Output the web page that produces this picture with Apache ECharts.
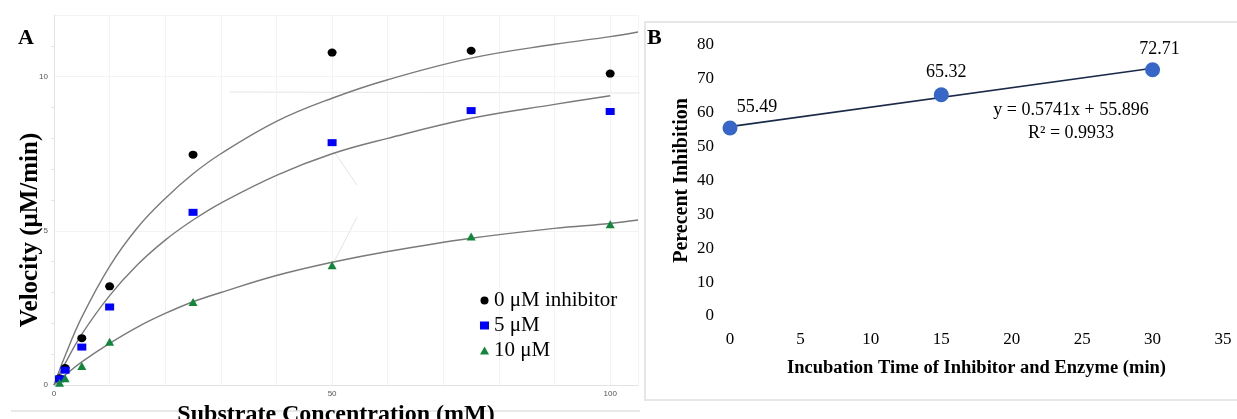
<!DOCTYPE html>
<html>
<head>
<meta charset="utf-8">
<script src="https://cdn.jsdelivr.net/npm/echarts@6/dist/echarts.min.js"></script>
<style>
  html, body { margin: 0; padding: 0; background: #fff; }
  #chart { width: 1237px; height: 419px; }
</style>
</head>
<body>
<div id="chart"></div>
<script>
// panel A - measured velocities
const substrate = [1, 2, 5, 10, 25, 50, 75, 100]
const vel0 = [0.22, 0.55, 1.52, 3.2, 7.47, 10.78, 10.84, 10.1]
const vel5 = [0.2, 0.48, 1.23, 2.53, 5.6, 7.86, 8.9, 8.87]
const vel10 = [0.07, 0.22, 0.62, 1.4, 2.69, 3.88, 4.82, 5.21]

// panel A - fitted curves
const fitX = [0, 2, 5, 10, 15, 20, 25, 30, 40, 50, 60, 75, 90, 100, 105]
const fit0 = [0, 0.95, 2.2, 3.85, 5.1, 6.05, 6.85, 7.5, 8.55, 9.3, 9.9, 10.6, 11.05, 11.3, 11.45]
const fit5 = [0, 0.7, 1.65, 2.9, 3.9, 4.7, 5.35, 5.9, 6.8, 7.5, 8.0, 8.65, 9.1, 9.38, null]
const fit10 = [0, 0.32, 0.75, 1.35, 1.88, 2.32, 2.7, 3.0, 3.55, 3.98, 4.33, 4.76, 5.08, 5.24, 5.35]

const seriesNames = ["0 μM inhibitor", "5 μM", "10 μM"]

// panel B - percent inhibition vs incubation time
const incubation = [0, 15, 30]
const inhibition = [55.49, 65.32, 72.71]
const trendX = [0, 30]
const trendY = [55.896, 73.119]
const trendText = ["y = 0.5741x + 55.896", "R² = 0.9933"]

const serif = "Liberation Serif"
const pairs = (xs, ys) => xs.map((x, i) => [x, ys[i]])

const chart = echarts.init(document.getElementById("chart"))

const fitLine = (ys) => ({
  type: "line",
  xAxisIndex: 0,
  yAxisIndex: 0,
  data: pairs(fitX, ys).filter(p => p[1] !== null),
  smooth: 0.4,
  showSymbol: false,
  silent: true,
  lineStyle: { color: "#7a7a7a", width: 1.4 },
  z: 1
})

const dots = (name, ys, symbol, size, color) => ({
  name: name,
  type: "scatter",
  xAxisIndex: 0,
  yAxisIndex: 0,
  data: pairs(substrate, ys),
  symbol: symbol,
  symbolSize: size,
  itemStyle: { color: color, opacity: 1 },
  z: 3
})

// label offsets for the three points in panel B
const labelOffsets = [[27, 2], [5, 0], [7, 2]]

const option = {
  animation: false,
  grid: [
    { left: 54, top: 15, width: 584, height: 370, outerBoundsMode: "none", containLabel: false },
    { left: 730, top: 45, width: 493, height: 271, outerBoundsMode: "none", containLabel: false }
  ],
  legend: {
    data: seriesNames,
    orient: "vertical",
    left: 475,
    top: 285,
    itemWidth: 9,
    itemHeight: 8,
    itemGap: 4,
    textStyle: { fontFamily: serif, fontSize: 21, color: "#000" }
  },
  xAxis: [
    {
      gridIndex: 0,
      type: "value",
      min: 0,
      max: 105,
      interval: 10,
      name: "Substrate Concentration (mM)",
      nameLocation: "middle",
      nameGap: 12,
      nameTextStyle: { fontFamily: serif, fontSize: 24, fontWeight: "bold", color: "#000", padding: [0, 20, 0, 0] },
      axisLine: { lineStyle: { color: "#e2e2e2" } },
      axisTick: { show: false },
      axisLabel: {
        fontSize: 8, color: "#555", margin: 5,
        showMaxLabel: false,
        formatter: v => (v % 50 === 0 ? String(v) : "")
      },
      splitLine: { lineStyle: { color: "#f3f3f3" } }
    },
    {
      gridIndex: 1,
      type: "value",
      min: 0,
      max: 35,
      interval: 5,
      name: "Incubation Time of Inhibitor and Enzyme (min)",
      nameLocation: "middle",
      nameGap: 43,
      nameTextStyle: { fontFamily: serif, fontSize: 18.5, fontWeight: "bold", color: "#000" },
      axisLine: { show: false },
      axisTick: { show: false },
      axisLabel: { fontFamily: serif, fontSize: 17, color: "#000", margin: 15 },
      splitLine: { show: false }
    }
  ],
  yAxis: [
    {
      gridIndex: 0,
      type: "value",
      min: 0,
      max: 12,
      interval: 5,
      axisLine: { show: true, lineStyle: { color: "#e2e2e2" } },
      axisTick: { show: false },
      minorTick: { show: true, splitNumber: 5, length: 3, lineStyle: { color: "#e6e6e6" } },
      axisLabel: { fontSize: 8, color: "#555", margin: 6, showMaxLabel: false },
      splitLine: { lineStyle: { color: "#f3f3f3" } }
    },
    {
      gridIndex: 1,
      type: "value",
      min: 0,
      max: 80,
      interval: 10,
      name: "Perecent Inhibition",
      nameLocation: "middle",
      nameGap: 38,
      nameTextStyle: { fontFamily: serif, fontSize: 20, fontWeight: "bold", color: "#000" },
      axisLine: { show: false },
      axisTick: { show: false },
      axisLabel: { fontFamily: serif, fontSize: 17, color: "#000", margin: 16 },
      splitLine: { show: false }
    }
  ],
  series: [
    fitLine(fit0),
    fitLine(fit5),
    fitLine(fit10),
    dots(seriesNames[0], vel0, "circle", [9, 8], "#000000"),
    dots(seriesNames[1], vel5, "rect", [9, 7], "#0000ff"),
    dots(seriesNames[2], vel10, "triangle", [9, 8], "#10873a"),
    {
      type: "line",
      xAxisIndex: 1,
      yAxisIndex: 1,
      data: pairs(trendX, trendY),
      showSymbol: false,
      silent: true,
      lineStyle: { color: "#1b2a48", width: 1.6 },
      z: 1
    },
    {
      type: "scatter",
      xAxisIndex: 1,
      yAxisIndex: 1,
      data: pairs(incubation, inhibition).map((p, i) => ({
        value: p,
        label: { offset: labelOffsets[i] }
      })),
      symbolSize: 15,
      itemStyle: { color: "#3566c8", opacity: 1 },
      label: {
        show: true,
        position: "top",
        distance: 6,
        fontFamily: serif,
        fontSize: 18,
        color: "#000",
        formatter: p => p.value[1].toFixed(2)
      },
      z: 3
    }
  ],
  graphic: [
    { type: "text", left: 18, top: 27, style: { text: "A", font: "bold 22px " + serif, fill: "#000" } },
    { type: "text", left: 647, top: 27, style: { text: "B", font: "bold 22px " + serif, fill: "#000" } },
    {
      // y-axis title of panel A sits below the grid centre in the original
      type: "text", x: 31, y: 230, rotation: Math.PI / 2,
      style: { text: "Velocity (μM/min)", font: "bold 25px " + serif, fill: "#000", align: "center", verticalAlign: "middle" }
    },
    {
      type: "rect", shape: { x: 645, y: 22, width: 600, height: 378 },
      style: { fill: "none", stroke: "#e6e6e6", lineWidth: 2 }, silent: true
    },
    { type: "line", shape: { x1: 11, y1: 411, x2: 640, y2: 411 }, style: { stroke: "#e8e8e8", lineWidth: 2 }, silent: true },
    { type: "line", shape: { x1: 230, y1: 92, x2: 640, y2: 93 }, style: { stroke: "#e4e4e4", lineWidth: 1 }, silent: true },
    { type: "line", shape: { x1: 335, y1: 153, x2: 357, y2: 185 }, style: { stroke: "#e4e4e4", lineWidth: 1 }, silent: true },
    { type: "line", shape: { x1: 357, y1: 217, x2: 335, y2: 260 }, style: { stroke: "#e4e4e4", lineWidth: 1 }, silent: true },
    {
      type: "text", x: 1071, y: 99,
      style: { text: trendText.join("\n"), font: "18px " + serif, fill: "#000", align: "center", verticalAlign: "top", lineHeight: 23 }
    }
  ]
}

chart.setOption(option)
</script>
</body>
</html>
